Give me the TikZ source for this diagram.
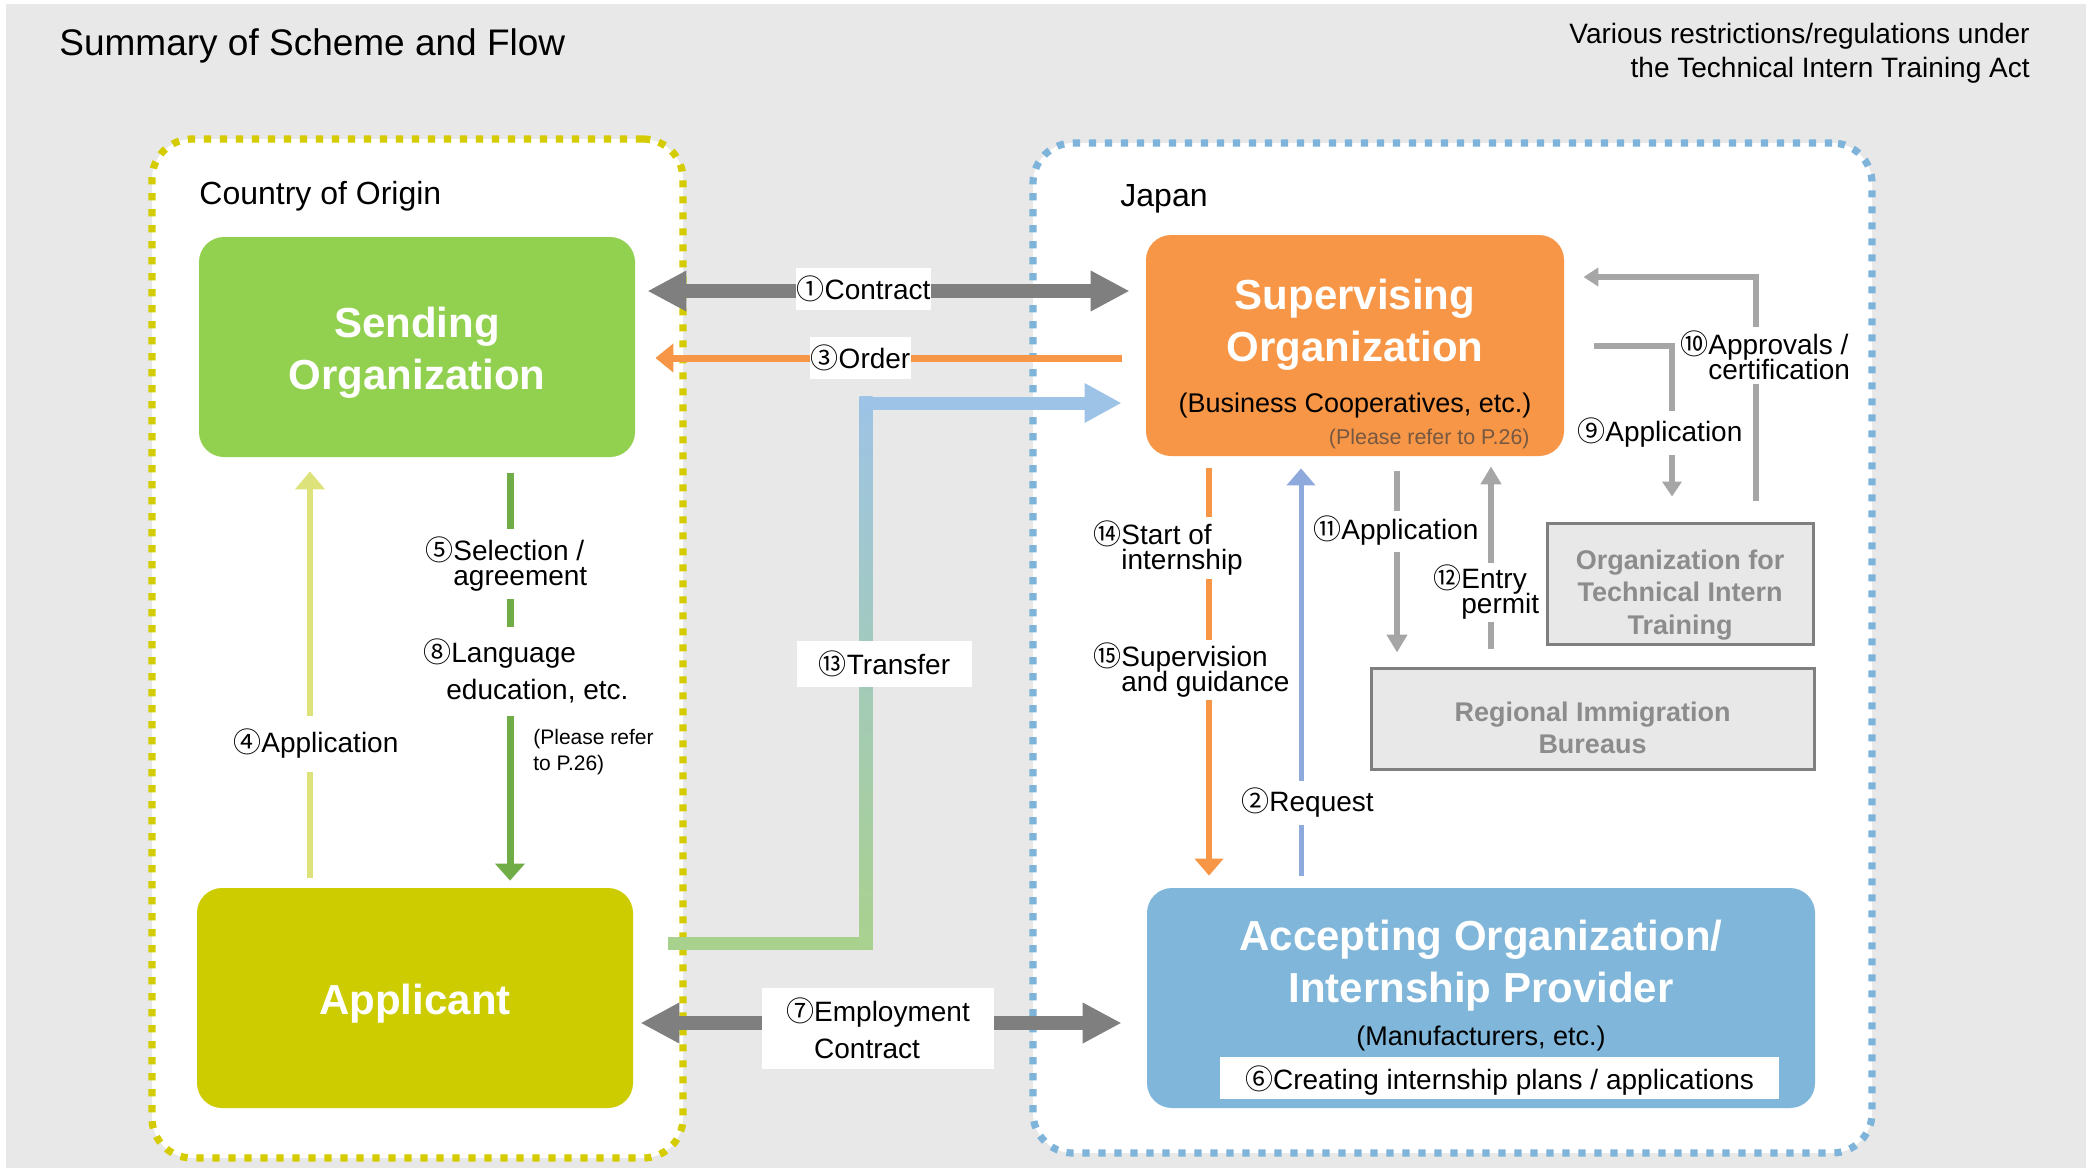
\documentclass[tikz,border=0pt]{standalone}
\usepackage{fontspec}
\setmainfont{Liberation Sans}
\newfontfamily\cjk{Noto Sans CJK JP}
\usetikzlibrary{arrows.meta}
\newcommand{\cn}[1]{{\cjk #1}}
\lineskiplimit=-50pt
\definecolor{bgc}{RGB}{232,232,232}
\definecolor{sendc}{RGB}{146,208,80}
\definecolor{applc}{RGB}{204,204,0}
\definecolor{supc}{RGB}{247,150,70}
\definecolor{accc}{RGB}{127,182,217}
\definecolor{oribd}{RGB}{212,204,0}
\definecolor{japbd}{RGB}{126,180,218}
\definecolor{darkg}{RGB}{127,127,127}
\definecolor{lightg}{RGB}{166,166,166}
\definecolor{reqc}{RGB}{142,169,219}
\definecolor{appc}{RGB}{221,227,122}
\definecolor{selc}{RGB}{112,173,71}
\definecolor{trg}{RGB}{169,209,142}
\definecolor{trb}{RGB}{157,195,230}
\definecolor{orgtxt}{RGB}{140,140,140}
\definecolor{refc}{RGB}{118,88,66}
\begin{document}
\begin{tikzpicture}[x=0.5pt,y=-0.5pt,
  region/.style={fill=white, line width=3.6pt, dash pattern=on 3.6pt off 4.4pt, rounded corners=20pt, inner sep=0pt},
  orgbox/.style={rounded corners=12.5pt, inner sep=0pt, draw=none},
  orgtitle/.style={font=\bfseries\fontsize{21}{26}\selectfont, text=white, align=center, inner sep=0pt},
  subtxt/.style={font=\fontsize{13.5}{16}\selectfont, inner sep=0pt},
  govbox/.style={draw=darkg, line width=1.5pt, fill=bgc, inner sep=0pt},
  govtxt/.style={font=\bfseries\fontsize{13.5}{16.25}\selectfont, text=orgtxt, align=center, inner sep=0pt},
  lbl/.style={font=\fontsize{14}{12.5}\selectfont, fill=white, inner xsep=0pt, inner ysep=0pt, align=left, anchor=west},
  boxlbl/.style={font=\fontsize{14}{18.5}\selectfont, fill=white, inner xsep=0.5pt, inner ysep=0pt, align=center},
  bigarr/.style={darkg, line width=7pt, {Triangle[width=19pt,length=19.5pt]}-{Triangle[width=19pt,length=19.5pt]}},
  grarr/.style={lightg, line width=3pt, -{Triangle[width=10pt,length=9pt]}},
  vtip/.style={-{Triangle[width=14pt,length=8.5pt]}}
]
\useasboundingbox (0,0) rectangle (2091,1168);
\fill[white] (0,0) rectangle (2091,1168);
\fill[bgc] (6,4) rectangle (2086,1168);

% headings
\node[anchor=base west, inner sep=0pt, font=\fontsize{18.5}{22}\selectfont] (ttl) at (59,55) {Summary of Scheme and Flow};
\node[anchor=base east, inner sep=0pt, font=\fontsize{14}{17}\selectfont] (act1) at (2030,43) {Various restrictions/regulations under};
\node[anchor=base east, inner sep=0pt, font=\fontsize{14}{17}\selectfont] (act2) at (2030,77) {the Technical Intern Training Act};

% regions
\node[region, draw=oribd, minimum width=265.5pt, minimum height=509.5pt] (origin) at (417.5,648.5) {};
\node[region, draw=japbd, minimum width=419.5pt, minimum height=505pt] (japan) at (1452.5,648) {};
\node[anchor=base west, inner sep=0pt, font=\fontsize{16}{19}\selectfont] (orilbl) at (199,204) {Country of Origin};
\node[anchor=base west, inner sep=0pt, font=\fontsize{16}{19}\selectfont] (japlbl) at (1120,206) {Japan};

% organisation boxes
\node[orgbox, fill=sendc, minimum width=218pt, minimum height=110pt] (send) at (417,347) {};
\node[orgtitle] (sendtxt) at (417,353) {Sending\\Organization};
\node[orgbox, fill=applc, minimum width=218pt, minimum height=110pt] (appl) at (415,998) {};
\node[orgtitle] (appltxt) at (415,1004) {Applicant};
\node[orgbox, fill=supc, minimum width=209pt, minimum height=110.5pt] (sup) at (1355,345.5) {};
\node[orgtitle] (suptxt) at (1355,325) {Supervising\\Organization};
\node[subtxt] (supsub) at (1355,406) {(Business Cooperatives, etc.)};
\node[anchor=east, inner sep=0pt, font=\fontsize{10.7}{12}\selectfont, text=refc] (supref) at (1530,439) {(Please refer to P.26)};
\node[orgbox, fill=accc, minimum width=334pt, minimum height=110pt] (acc) at (1481,998) {};
\node[orgtitle] (acctxt) at (1481,966) {Accepting Organization/\\Internship Provider};
\node[subtxt] (accsub) at (1481,1038) {(Manufacturers, etc.)};
\node[fill=white, minimum width=279.5pt, minimum height=21pt, inner sep=0pt] (acc6) at (1499.5,1078) {};
\node[inner sep=0pt, font=\fontsize{14}{16}\selectfont] (acc6txt) at (1499.5,1081) {\cn{⑥}Creating internship plans / applications};
\node[govbox, minimum width=133pt, minimum height=60.5pt] (otit) at (1680,583.5) {};
\node[govtxt] (otittxt) at (1680,595) {Organization for\\Technical Intern\\Training};
\node[govbox, minimum width=221.5pt, minimum height=50.5pt] (rib) at (1592.5,718.5) {};
\node[govtxt] (ribtxt) at (1592.5,728) {Regional Immigration\\Bureaus};

% helper coordinates
\coordinate (yC) at (0,291);
\coordinate (yO) at (0,358);
\coordinate (yE) at (0,1023);
\coordinate (y9) at (0,346);
\coordinate (y10) at (0,277);
\coordinate (xR) at (1301,0);
\coordinate (xS) at (1209,0);
\coordinate (x11) at (1397,0);
\coordinate (x12) at (1491,0);
\coordinate (x4) at (310,0);
\coordinate (x5) at (510,0);
\coordinate (x9) at (1672,0);
\coordinate (x10) at (1756,0);
\coordinate (tA) at (668,943);
\coordinate (tB) at (866,943);
\coordinate (tC) at (866,403);

% contract / order / employment
\draw[bigarr, shorten <=6pt, shorten >=8pt] (send.east |- yC) -- (sup.west |- yC);
\draw[supc, line width=3.5pt, -{Triangle[width=14pt,length=9pt]}, shorten <=12pt, shorten >=10pt] (sup.west |- yO) -- (send.east |- yO);
\draw[bigarr, shorten <=3.5pt, shorten >=12.5pt] (appl.east |- yE) -- (acc.west |- yE);

% transfer
\draw[trg, line width=6.5pt] (tA) -- ([xshift=3.25pt]tB);
\shade[bottom color=trg, top color=trb] ([xshift=-3.25pt,yshift=-3.25pt]tB) rectangle ([xshift=3.25pt,yshift=3.25pt]tC);
\draw[trb, line width=6.5pt, -{Triangle[width=18.5pt,length=18.5pt]}, shorten >=12pt] ([xshift=-3.25pt]tC) -- (sup.west |- tC);

% vertical arrows
\draw[reqc, line width=2.5pt, vtip, shorten <=6pt, shorten >=6pt] (xR |- acc.north) -- (xR |- sup.south);
\draw[supc, line width=3pt, vtip, shorten <=6pt, shorten >=6pt] (xS |- sup.south) -- (xS |- acc.north);
\draw[grarr, shorten <=7.5pt, shorten >=7pt] (x11 |- sup.south) -- (x11 |- rib.north);
\draw[grarr, shorten <=9pt, shorten >=5pt] (x12 |- rib.north) -- (x12 |- sup.south);
\draw[appc, line width=3pt, -{Triangle[width=14.5pt,length=9pt]}, shorten <=5pt, shorten >=7pt] (x4 |- appl.north) -- (x4 |- send.south);
\draw[selc, line width=3.5pt, -{Triangle[width=14.5pt,length=8.5pt]}, shorten <=8pt, shorten >=3.5pt] (x5 |- send.south) -- (x5 |- appl.north);
\draw[grarr, -{Triangle[width=9.5pt,length=7.5pt]}, shorten <=15pt, shorten >=12.5pt] (sup.east |- y9) -| (x9 |- otit.north);
\draw[grarr, -{Triangle[width=9pt,length=7.5pt]}, shorten <=10.5pt, shorten >=9.5pt] (x10 |- otit.north) |- (sup.east |- y10);

% labels on connectors
\node[boxlbl, minimum height=21pt] (lC) at (863.5,289) {\cn{①}Contract};
\node[boxlbl, minimum height=21pt] (lO) at (860.5,358) {\cn{③}Order};
\node[boxlbl, minimum width=87.5pt, minimum height=23pt] (l13) at (884.5,664) {\cn{⑬}Transfer};
\node[boxlbl, align=left, minimum width=116pt, minimum height=40.5pt] (l7) at (878,1028.5) {\cn{⑦}Employment\\\hphantom{\cn{⑦}}Contract};
\node[lbl, minimum height=28pt] (l4) at (233,744) {\cn{④}Application};
\node[lbl, minimum height=35pt] (l5) at (425,564) {\cn{⑤}Selection /\\\hphantom{\cn{⑤}}agreement};
\node[lbl, minimum height=44.5pt, font=\fontsize{14}{18.5}\selectfont] (l8) at (423,671) {\cn{⑧}Language\\\hphantom{\cn{⑧}}\hspace{-2.5pt}education, etc.};
\node[anchor=west, inner sep=0pt, align=left, font=\fontsize{10.5}{13}\selectfont] (l8r) at (533,752) {(Please refer\\to P.26)};
\node[lbl, minimum height=31pt] (l14) at (1093,548) {\cn{⑭}Start of\\\hphantom{\cn{⑭}}internship};
\node[lbl, minimum height=30pt] (l15) at (1093,670) {\cn{⑮}Supervision\\\hphantom{\cn{⑮}}and guidance};
\node[lbl, minimum height=22pt] (l2) at (1241,803) {\cn{②}Request};
\node[lbl, minimum height=20.5pt] (l11) at (1313,531) {\cn{⑪}Application};
\node[lbl, minimum height=29.5pt] (l12) at (1433,592) {\cn{⑫}Entry\\\hphantom{\cn{⑫}}permit};
\node[lbl, minimum height=22pt] (l9) at (1577,433) {\cn{⑨}Application};
\node[lbl, minimum height=28.5pt] (l10) at (1680,355) {\cn{⑩}Approvals /\\\hphantom{\cn{⑩}}certification};
\end{tikzpicture}
\end{document}
